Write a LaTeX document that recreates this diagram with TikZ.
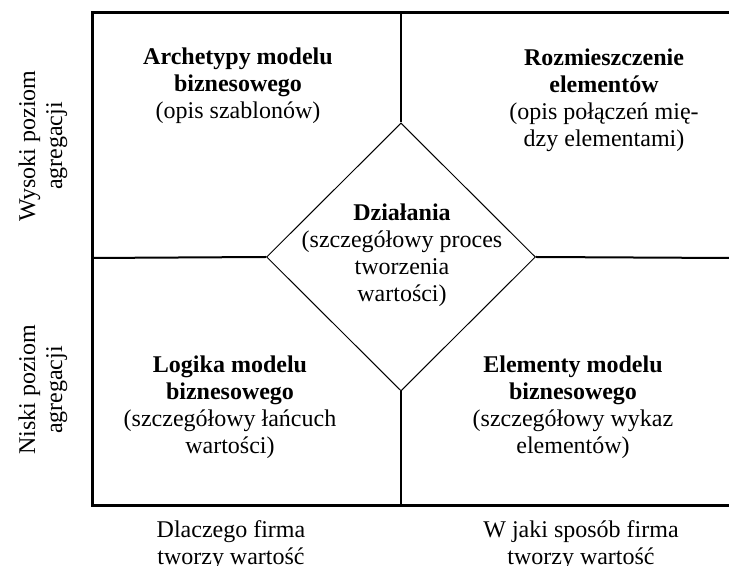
\documentclass[tikz,border=0pt]{standalone}
\usepackage{fontspec}
\setmainfont{Liberation Serif}
\usetikzlibrary{shapes.geometric}
\begin{document}
\begin{tikzpicture}[x=0.5pt,y=-0.5pt]
  \tikzset{txt/.style = {align=center,font=\fontsize{12}{13.5}\selectfont}}
  \tikzset{frame/.style = {line width=1.5pt,line join=miter}}
  \tikzset{split/.style = {line width=1pt}}
  \tikzset{core/.style = {shape=diamond,draw,line width=0.5pt,inner sep=0pt,
      minimum width=134.5pt,minimum height=134pt}}
  \useasboundingbox (0,0) rectangle (729,566);

	% frame and split ends
	\coordinate (f1) at (729,13);
	\coordinate (f2) at (92,13);
	\coordinate (f3) at (92,506);
	\coordinate (f4) at (729,506);
	\coordinate (mtop) at (401,13);
	\coordinate (mbot) at (401,506);
	\coordinate (mleft) at (92,258);
	\coordinate (mright) at (729,258);

	\draw[frame] (f1) -- (f2) -- (f3) -- (f4);

	\node[core] (act) at (401,257) {};
	\node[txt] (acttxt) at (402,255) {\textbf{Działania}\\(szczegółowy proces\\tworzenia\\wartości)};

	\foreach \from/\to in {mtop/act.north,act.south/mbot,mleft/act.west,act.east/mright}
	\draw[split] (\from) -- (\to);

	% quadrants
	\node[txt] (tl) at (238,86) {\textbf{Archetypy modelu}\\\textbf{biznesowego}\\(opis szablonów)};
	\node[txt] (tr) at (604,100) {\textbf{Rozmieszczenie}\\\textbf{elementów}\\(opis połączeń mię-\\dzy elementami)};
	\node[txt] (bl) at (230,407) {\textbf{Logika modelu}\\\textbf{biznesowego}\\(szczegółowy łańcuch\\wartości)};
	\node[txt] (br) at (573,407) {\textbf{Elementy modelu}\\\textbf{biznesowego}\\(szczegółowy wykaz\\elementów)};

	% axis labels
	\node[txt,rotate=90] (hi) at (43,146) {Wysoki poziom\\agregacji};
	\node[txt,rotate=90] (lo) at (43,390) {Niski poziom\\agregacji};
	\node[txt] (why) at (231,545) {Dlaczego firma\\tworzy wartość};
	\node[txt] (how) at (581,545) {W jaki sposób firma\\tworzy wartość};
\end{tikzpicture}
\end{document}
